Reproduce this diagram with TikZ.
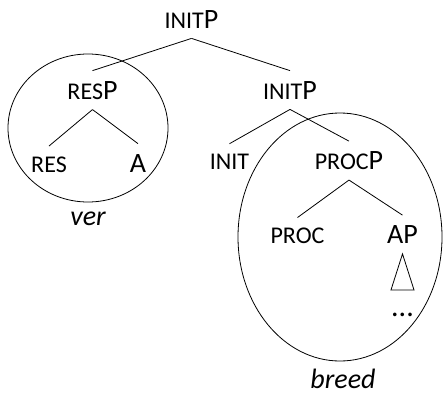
\documentclass[tikz,border=0pt]{standalone}
\usepackage{fontspec}
\setmainfont{Carlito}
\newcommand{\sml}[1]{{\fontsize{24}{24}\selectfont #1}}
\tikzset{
  cat/.style={
    inner xsep = 0pt,
    inner ysep = 10pt,
    anchor = base,
    font = \fontsize{28}{28}\selectfont
  },
  gloss/.style={
    inner sep = 0pt,
    anchor = base,
    font = \fontsize{28}{28}\selectfont\itshape
  },
  every picture/.style = {
    x = 1pt,
    y = -1pt,
    line width = 0.8pt
  }
}
\begin{document}
\begin{tikzpicture}
            \useasboundingbox (0,0) rectangle (447,394);
            % tree
            \node[cat] (top) at (191.5,28) {\sml{INIT}P};
            \node[cat] (resp) at (92.5,99) {\sml{RES}P};
            \node[cat] (initp) at (290,99) {\sml{INIT}P};
            \node[cat] (res) at (49,172) {\sml{RES}};
            \node[cat] (a) at (138,172) {A};
            \node[cat] (init) at (229.5,169.5) {\sml{INIT}};
            \node[cat] (procp) at (349,169.5) {\sml{PROC}P};
            \node[cat] (proc) at (297.5,243.5) {\sml{PROC}};
            \node[cat] (ap) at (402.5,243.5) {AP};
            \node[cat,font=\fontsize{30}{30}\selectfont] (dots) at (402.5,316) {...};
            \foreach \p/\c in {top/resp,top/initp,resp/res,resp/a,initp/init,initp/procp,procp/proc,procp/ap}{
                    \draw (\p.south) -- (\c.north);
                }
            \draw (ap.south) --++ (-11.5,36) --++ (23,0) -- cycle;
            % domains
            \draw (88,128) ellipse [x radius=80, y radius=74];
            \draw (340,237) ellipse [x radius=102, y radius=124];
            \node[gloss] (ver) at (88,225) {ver};
            \node[gloss] (breed) at (343,388) {breed};
        \end{tikzpicture}
\end{document}
